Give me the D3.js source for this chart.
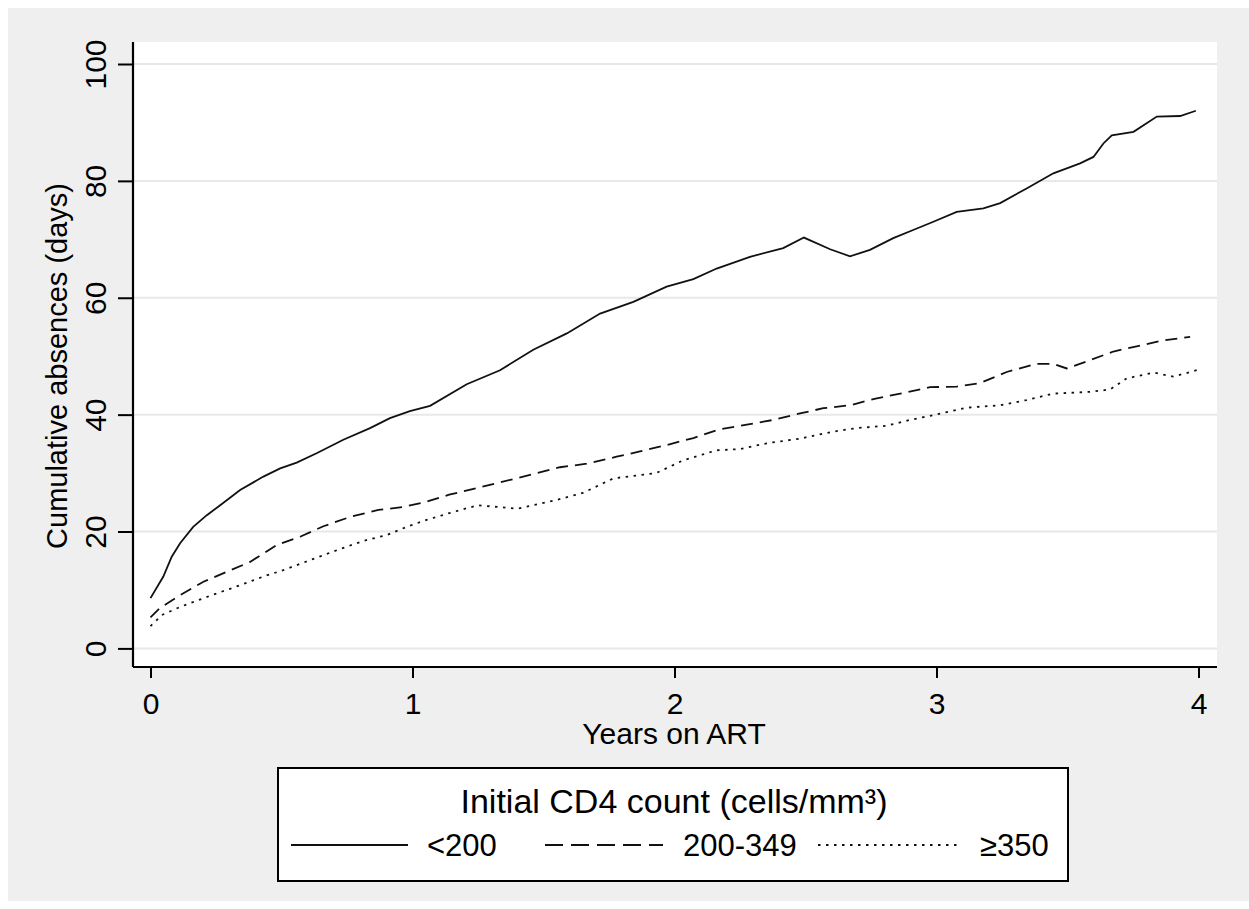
<!DOCTYPE html>
<html>
<head>
<meta charset="utf-8">
<script src="https://cdn.jsdelivr.net/npm/d3@7"></script>
<style>
  html, body { margin: 0; padding: 0; background: #ffffff; }
  svg { display: block; font-family: "Liberation Sans", Arial, sans-serif; }
</style>
</head>
<body>
<svg id="chart" width="1249" height="909"></svg>
<script>
// ---- data ----
const seriesNames = ["<200", "200-349", "≥350"];
const yTicks = [0, 20, 40, 60, 80, 100];
const xTicks = [0, 1, 2, 3, 4];

const lowYears = [0, 0.049, 0.081, 0.113, 0.163, 0.215, 0.266, 0.342, 0.431, 0.495, 0.558, 0.634, 0.736, 0.838, 0.914, 0.99, 1.067, 1.207, 1.334, 1.461, 1.589, 1.716, 1.843, 1.97, 2.072, 2.161, 2.288, 2.415, 2.494, 2.594, 2.67, 2.746, 2.835, 2.911, 2.988, 3.077, 3.179, 3.243, 3.344, 3.446, 3.548, 3.599, 3.637, 3.669, 3.752, 3.841, 3.93, 3.99];
const lowValues = [8.6, 12.3, 15.7, 18.0, 20.8, 22.8, 24.5, 27.1, 29.4, 30.8, 31.8, 33.4, 35.7, 37.7, 39.4, 40.6, 41.5, 45.2, 47.6, 51.1, 53.9, 57.3, 59.3, 61.9, 63.2, 65.0, 67.0, 68.5, 70.3, 68.3, 67.1, 68.2, 70.2, 71.6, 73.0, 74.7, 75.3, 76.2, 78.7, 81.3, 83.0, 84.1, 86.4, 87.8, 88.4, 91.0, 91.1, 92.0];

const midYears = [0, 0.036, 0.113, 0.202, 0.291, 0.38, 0.482, 0.571, 0.66, 0.762, 0.87, 0.965, 1.054, 1.14, 1.26, 1.397, 1.563, 1.665, 1.779, 1.868, 1.97, 2.072, 2.174, 2.276, 2.378, 2.479, 2.568, 2.67, 2.772, 2.874, 2.975, 3.077, 3.166, 3.268, 3.383, 3.446, 3.497, 3.573, 3.675, 3.764, 3.866, 3.968];
const midValues = [5.3, 6.9, 9.1, 11.4, 13.1, 14.8, 17.7, 19.1, 20.9, 22.5, 23.7, 24.2, 25.1, 26.3, 27.6, 29.1, 31.0, 31.6, 32.8, 33.7, 34.8, 36.0, 37.5, 38.3, 39.1, 40.2, 41.1, 41.6, 42.8, 43.7, 44.7, 44.8, 45.4, 47.3, 48.7, 48.7, 47.9, 49.1, 50.8, 51.7, 52.7, 53.3];

const highYears = [0, 0.043, 0.113, 0.227, 0.329, 0.431, 0.507, 0.609, 0.711, 0.813, 0.902, 0.978, 1.054, 1.16, 1.25, 1.4, 1.55, 1.65, 1.767, 1.93, 2.034, 2.161, 2.25, 2.352, 2.479, 2.606, 2.695, 2.81, 2.899, 2.988, 3.116, 3.243, 3.344, 3.446, 3.586, 3.662, 3.726, 3.828, 3.904, 3.993];
const highValues = [3.8, 5.7, 7.1, 9.0, 10.6, 12.3, 13.4, 15.1, 16.8, 18.4, 19.4, 20.8, 22.0, 23.4, 24.5, 23.9, 25.4, 26.6, 29.1, 30.0, 32.2, 33.9, 34.1, 35.1, 35.9, 37.1, 37.7, 38.1, 39.1, 39.9, 41.2, 41.6, 42.5, 43.6, 43.9, 44.3, 46.2, 47.2, 46.5, 47.6];

const xTitle = "Years on ART";
const yTitle = "Cumulative absences (days)";
const legendTitle = "Initial CD4 count (cells/mm³)";

// ---- drawing ----
const svg = d3.select("#chart");
const plot = { left: 133, right: 1217, top: 42, bottom: 667 };

svg.append("rect").attr("x", 8).attr("y", 8).attr("width", 1241).attr("height", 893).attr("fill", "#efefef");
svg.append("rect").attr("x", plot.left).attr("y", plot.top)
  .attr("width", plot.right - plot.left).attr("height", plot.bottom - plot.top).attr("fill", "#ffffff");

const x = d3.scaleLinear().domain([0, 4]).range([150.5, 1198.5]);
const y = d3.scaleLinear().domain([0, 100]).range([648.4, 64]);

// gridlines
svg.append("g").selectAll("line").data(yTicks).join("line")
  .attr("x1", plot.left).attr("x2", plot.right)
  .attr("y1", d => y(d)).attr("y2", d => y(d))
  .attr("stroke", "#e8e8e8").attr("stroke-width", 2);

// y axis
const yAxis = svg.append("g").attr("transform", `translate(${plot.left},0)`)
  .call(d3.axisLeft(y).tickValues(yTicks).tickSize(15).tickPadding(0).tickFormat(d3.format("d")));
yAxis.select(".domain").attr("d", `M0,${plot.top}V${plot.bottom}`).attr("stroke", "#000").attr("stroke-width", 2.2);
yAxis.selectAll(".tick line").attr("stroke", "#000").attr("stroke-width", 2);
yAxis.selectAll(".tick text")
  .attr("x", null).attr("dy", null)
  .attr("transform", "translate(-27,0) rotate(-90)")
  .attr("text-anchor", "middle")
  .attr("font-size", 30).attr("font-family", "Liberation Sans, Arial, sans-serif").attr("fill", "#000");

// x axis
const xAxis = svg.append("g").attr("transform", `translate(0,${plot.bottom})`)
  .call(d3.axisBottom(x).tickValues(xTicks).tickSize(11).tickPadding(0).tickFormat(d3.format("d")));
xAxis.select(".domain").attr("d", `M${plot.left},0H${plot.right}`).attr("stroke", "#000").attr("stroke-width", 2.2);
xAxis.selectAll(".tick line").attr("stroke", "#000").attr("stroke-width", 2);
xAxis.selectAll(".tick text").attr("y", 47).attr("dy", null)
  .attr("font-size", 30).attr("font-family", "Liberation Sans, Arial, sans-serif").attr("fill", "#000");

// axis titles
svg.append("text").attr("x", 674).attr("y", 744).attr("text-anchor", "middle")
  .attr("font-size", 30).attr("fill", "#000").text(xTitle);
svg.append("text").attr("transform", "translate(67,366) rotate(-90)").attr("text-anchor", "middle")
  .attr("font-size", 29).attr("fill", "#000").text(yTitle);

// series
const styles = [
  { dash: null, years: lowYears, values: lowValues },
  { dash: "12,7", years: midYears, values: midValues },
  { dash: "2.5,5.5", years: highYears, values: highValues }
];
const line = d3.line().x(d => x(d[0])).y(d => y(d[1])).curve(d3.curveLinear);
styles.forEach(s => {
  const pts = s.years.map((t, i) => [t, s.values[i]]);
  svg.append("path").datum(pts).attr("d", line)
    .attr("fill", "none").attr("stroke", "#111").attr("stroke-width", 1.8)
    .attr("stroke-dasharray", s.dash);
});

// legend
const lg = svg.append("g");
lg.append("rect").attr("x", 278).attr("y", 768).attr("width", 790).attr("height", 113)
  .attr("fill", "#fff").attr("stroke", "#000").attr("stroke-width", 2);
lg.append("text").attr("x", 674).attr("y", 813).attr("text-anchor", "middle")
  .attr("font-size", 34).attr("fill", "#000").text(legendTitle);
const items = [
  { x1: 291, x2: 408, tx: 427, dash: null },
  { x1: 545, x2: 663, tx: 683, dash: "18,8" },
  { x1: 818, x2: 958, tx: 980, dash: "2.5,5.5" }
];
items.forEach((it, i) => {
  lg.append("line").attr("x1", it.x1).attr("x2", it.x2).attr("y1", 845).attr("y2", 845)
    .attr("stroke", "#111").attr("stroke-width", 2.2).attr("stroke-dasharray", it.dash);
  lg.append("text").attr("x", it.tx).attr("y", 856).attr("font-size", 31).attr("fill", "#000")
    .text(seriesNames[i]);
});
</script>
</body>
</html>
